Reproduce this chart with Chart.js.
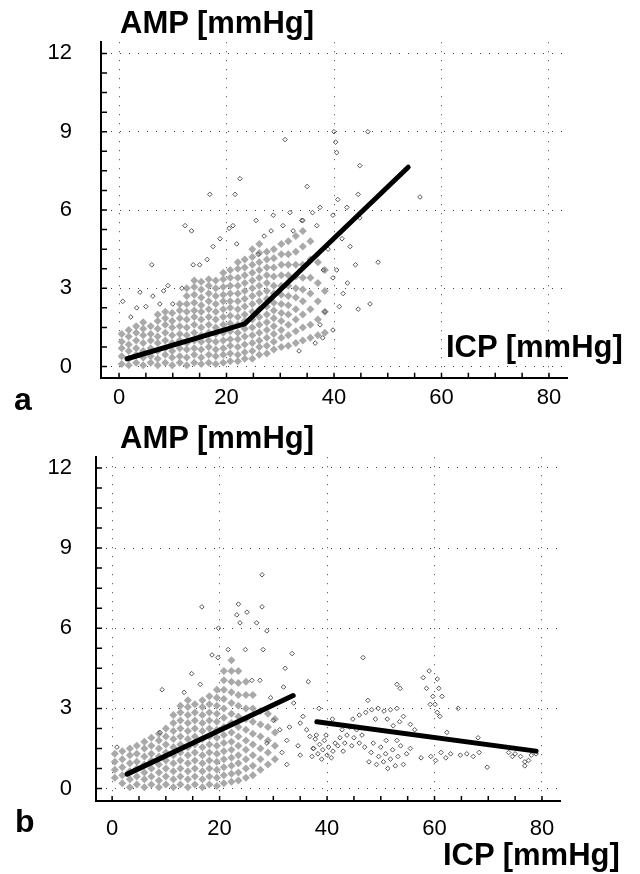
<!DOCTYPE html>
<html>
<head>
<meta charset="utf-8">
<script src="https://cdn.jsdelivr.net/npm/chart.js@4.4.1/dist/chart.umd.min.js"></script>
<style>
  body { margin: 0; background: #fff; }
  #wrap { position: relative; width: 640px; height: 874px; }
  .panel { position: absolute; left: 0; width: 640px; }
  .lbl { position: absolute; font-family: 'Liberation Sans', Arial, sans-serif; font-weight: bold; font-size: 31px; line-height: 1; color: #000; white-space: nowrap; }
  .tag { font-size: 32px; }
</style>
</head>
<body>
<div id="wrap">
  <div class="panel" style="top:0;height:420px"><canvas id="chartA"></canvas></div>
  <div class="panel" style="top:420px;height:454px"><canvas id="chartB"></canvas></div>
  <div class="lbl" style="left:120px;top:7px">AMP [mmHg]</div>
  <div class="lbl" style="left:446px;top:331px">ICP [mmHg]</div>
  <div class="lbl tag" style="left:14px;top:383px">a</div>
  <div class="lbl" style="left:120px;top:422px">AMP [mmHg]</div>
  <div class="lbl" style="left:443px;top:839px">ICP [mmHg]</div>
  <div class="lbl tag" style="left:15px;top:805px">b</div>
</div>
<script>
// tick values (ICP on x, AMP on y)
var xTicks = [0, 5, 10, 15, 20, 25, 30, 35, 40, 45, 50, 55, 60, 65, 70, 75, 80];
var yTicks = [0, 0.75, 1.5, 2.25, 3, 3.75, 4.5, 5.25, 6, 6.75, 7.5, 8.25, 9, 9.75, 10.5, 11.25, 12];

// panel a: dense cloud, one column of AMP values per ICP value
var cloudAx = [0.5, 1.8, 3.2, 4.5, 5.9, 7.2, 8.6, 9.9, 11.3, 12.6, 14.0, 15.3, 16.7, 18.0, 19.4, 20.7, 22.1, 23.4, 24.8, 26.1, 27.5, 28.8, 30.2, 31.5, 32.9, 34.2, 35.6, 37.0, 38.3];
var cloudAy = [
  [0.1,0.4,0.7,0.95,1.25],
  [0.05,0.3,0.6,0.85,1.15,1.4],
  [0.15,0.45,0.7,1.0,1.3,1.55],
  [0.05,0.35,0.6,0.9,1.2,1.45,1.7],
  [0.15,0.4,0.7,1.0,1.25,1.55],
  [0.05,0.3,0.6,0.9,1.15,1.45,1.75,2.0],
  [0.15,0.45,0.7,1.0,1.3,1.6,1.85,2.1],
  [0.05,0.35,0.6,0.9,1.2,1.5,1.75,2.05],
  [0.15,0.4,0.7,1.0,1.25,1.55,1.85,2.15,2.4],
  [0.05,0.35,0.65,0.9,1.2,1.5,1.8,2.1,2.4,2.7,3.0],
  [0.15,0.45,0.7,1.0,1.3,1.6,1.9,2.15,2.45,2.75,3.05,3.3],
  [0.1,0.35,0.65,0.95,1.2,1.5,1.8,2.1,2.35,2.65,2.95,3.25],
  [0.15,0.45,0.75,1.0,1.3,1.6,1.9,2.2,2.5,2.8,3.1,3.35],
  [0.1,0.4,0.65,0.95,1.25,1.5,1.8,2.1,2.4,2.7,3.0,3.3],
  [0.15,0.45,0.7,1.0,1.3,1.6,1.9,2.2,2.5,2.75,3.05,3.35,3.6],
  [0.2,0.5,0.8,1.05,1.35,1.65,1.95,2.25,2.5,2.8,3.1,3.4,3.7],
  [0.2,0.45,0.75,1.05,1.3,1.6,1.9,2.2,2.5,2.8,3.1,3.4,3.75,4.0],
  [0.3,0.55,0.85,1.15,1.45,1.75,2.0,2.3,2.6,2.9,3.2,3.5,3.8,4.1],
  [0.3,0.6,0.9,1.2,1.5,1.8,2.1,2.4,2.7,3.0,3.3,3.6,3.9,4.2,4.5],
  [0.45,0.75,1.0,1.3,1.6,1.9,2.2,2.5,2.8,3.1,3.4,3.7,4.0,4.35,4.7],
  [0.5,0.8,1.1,1.4,1.7,2.0,2.3,2.6,2.9,3.2,3.5,3.8,4.1,4.4],
  [0.65,0.95,1.25,1.55,1.85,2.15,2.45,2.8,3.1,3.45,3.8,4.15,4.5],
  [0.75,1.1,1.4,1.75,2.05,2.4,2.75,3.1,3.5,3.9,4.3,4.7],
  [0.8,1.2,1.6,2.0,2.35,2.7,3.1,3.5,3.9,4.3,4.8],
  [0.9,1.35,1.8,2.2,2.65,3.0,3.45,3.9,4.4,5.0],
  [1.0,1.5,2.0,2.5,2.95,3.4,3.9,4.6,5.2],
  [1.1,1.6,2.2,2.8,3.4,4.1,4.8],
  [1.2,1.8,2.5,3.2,4.0],
  [1.3,2.1,2.9,3.7]
];
// panel a: scattered points
var sparseAx = [30.9,22.5,16.9,21.6,35,28.7,31.8,34,36,40,40.3,40.5,46.3,44.8,56,44.5,40.7,37.4,42.4,39.8,44.8,43,48.2,44,41.7,46.7,44.5,41,38.3,39.8,37.4,39.8,40.5,38,12.3,13.5,6.1,21.2,21.9,18.8,3.9,3.3,6.3,9.1,11.7,7.6,10,16.4,15,0.7,25.9,30.5,32.4,34.2,27,28.3,25.5,20.5,17.5,13.8,8.3,5,2.2,36.5,37.9,33.5,41.5,38.9,42.5,36.8];
var sparseAy = [8.7,7.2,6.6,6.6,6.9,5.8,5.9,5.6,5.9,9.0,8.6,8.2,9.0,7.7,6.5,6.6,6.4,6.1,6.1,5.8,5.7,4.6,4.0,3.9,2.8,2.4,2.2,2.3,2.1,1.4,1.6,3.4,3.7,3.7,5.4,5.2,3.9,5.4,4.7,4.9,2.85,2.25,2.7,3.1,3.0,2.4,2.4,4.1,3.9,2.5,4.3,5.4,5.2,5.6,5.0,5.2,5.6,5.3,4.6,3.9,2.9,2.3,1.9,0.9,1.1,0.6,4.9,4.5,3.2,5.4];
// panel a: fitted line
var fitAx = [1.5, 23.4, 53.8];
var fitAy = [0.3, 1.64, 7.64];

// panel b: dense cloud
var cloudBx = [0.5, 1.9, 3.3, 4.6, 6.0, 7.3, 8.7, 10.0, 11.4, 12.7, 14.1, 15.4, 16.8, 18.1, 19.5, 20.8, 22.2, 23.5, 24.9, 26.2, 27.6, 29.0, 30.3];
var cloudBy = [
  [0.4,0.7,1.0,1.3],
  [0.2,0.5,0.8,1.1,1.4],
  [0.05,0.35,0.65,0.95,1.25,1.5],
  [0.15,0.45,0.75,1.0,1.3,1.6],
  [0.05,0.35,0.6,0.9,1.2,1.5,1.75],
  [0.15,0.45,0.75,1.05,1.3,1.6,1.9],
  [0.05,0.3,0.6,0.9,1.2,1.5,1.8,2.05],
  [0.15,0.45,0.75,1.05,1.35,1.65,1.95,2.25],
  [0.05,0.35,0.65,0.95,1.25,1.55,1.85,2.15,2.45,2.75],
  [0.15,0.45,0.75,1.05,1.35,1.65,1.95,2.25,2.55,2.85,3.1],
  [0.05,0.35,0.65,0.95,1.25,1.55,1.85,2.15,2.45,2.75,3.05,3.3],
  [0.15,0.45,0.75,1.05,1.35,1.65,1.95,2.25,2.55,2.85,3.15],
  [0.05,0.35,0.65,0.95,1.25,1.55,1.85,2.15,2.45,2.75,3.05,3.3],
  [0.15,0.45,0.75,1.05,1.35,1.65,1.95,2.25,2.55,2.85,3.15,3.45],
  [0.1,0.4,0.7,1.0,1.3,1.6,1.9,2.2,2.5,2.8,3.1,3.4,3.7],
  [0.2,0.5,0.8,1.1,1.4,1.7,2.0,2.3,2.65,3.0,3.35,3.7,4.05,4.4],
  [0.25,0.55,0.85,1.15,1.45,1.75,2.1,2.45,2.8,3.2,3.6,4.0,4.4,4.8],
  [0.3,0.6,0.95,1.25,1.6,1.95,2.3,2.7,3.1,3.5,3.95,4.4],
  [0.4,0.75,1.1,1.45,1.8,2.2,2.6,3.0,3.5,4.0],
  [0.5,0.85,1.25,1.65,2.05,2.5,3.0,3.5],
  [0.7,1.1,1.5,1.95,2.4,2.9],
  [0.9,1.35,1.8,2.3,2.8],
  [1.1,1.6,2.1,2.6]
];
// panel b: scattered points and right-hand clusters
var sparseBx = [27.9,16.7,23.5,25.1,27.9,23.2,23.8,26.9,28.8,19.8,33.5,28.1,24.8,32.2,36.5,31.9,27.5,26,14.8,9.3,13.4,16.4,18.6,19.7,21.6,0.9,8.9,30,31.2,32.5,35,36.2,36.8,28.8,31.6,35,37.4,32.5,35.5,33.8,29.5,34.6,33,
  37.2,37.5,37.8,38.3,38.6,39.0,39.2,39.5,40.0,40.3,40.8,41.1,41.5,38.0,39.8,
  42.0,42.4,42.8,43.3,43.7,44.2,44.6,45.0,45.5,46.0,46.5,47.0,43.0,
  44.8,46.0,47.2,48.3,49.5,50.6,51.8,53.0,54.2,49,51.2,53.5,47.6,52.3,55.5,56.3,
  47.8,48.2,48.6,49.2,49.6,50.0,50.5,50.9,51.3,51.8,52.2,52.7,53.2,53.7,54.2,54.8,55.5,53.0,51.0,
  57.9,60.5,58.5,59.7,61.4,60.1,60.5,61,59.2,60.8,59.0,
  46.7,53,53.6,38.5,41,
  57.5,59.3,61.2,63.0,64.8,60.2,62.1,67.2,68.3,69.8,68.1,62.3,64.4,66,
  73.8,75.0,76.0,76.8,76.8,78.0,78.9,74.5,77.5];
var sparseBy = [8.0,6.8,6.9,6.6,6.8,6.5,6.2,6.2,5.9,6.0,5.05,5.2,5.2,4.5,4.0,3.8,4.05,4.05,4.3,3.7,3.6,3.9,5.0,4.9,5.2,1.55,2.1,2.55,2.2,1.8,2.45,2.2,1.95,1.7,1.35,1.25,1.5,0.9,2.7,3.2,3.4,1.6,2.3,
  1.2,1.5,1.85,1.3,1.65,1.1,1.45,1.8,1.25,1.55,1.15,1.4,1.7,2.0,2.0,
  1.6,1.9,2.2,1.7,2.0,2.3,1.6,1.9,2.2,1.7,2.0,1.55,1.4,
  2.6,2.75,2.85,2.95,3.0,2.9,2.95,3.0,2.7,2.6,2.6,2.5,3.3,2.35,2.4,2.2,
  1.0,1.35,1.7,0.9,1.2,1.55,1.0,1.3,0.75,1.1,1.45,0.85,1.2,1.6,0.9,1.3,1.5,1.8,1.8,
  4.15,4.1,3.75,3.45,3.45,3.15,2.85,2.7,3.15,3.75,4.4,
  4.9,3.9,3.75,3.0,2.6,
  1.15,1.2,1.35,1.3,1.25,1.05,1.15,1.2,1.35,0.8,1.9,2.1,3.0,1.3,
  1.35,1.3,1.2,1.0,0.85,1.25,1.3,1.2,1.05];
// panel b: two fitted lines
var fitB1x = [2.8, 33.7];
var fitB1y = [0.54, 3.48];
var fitB2x = [38.1, 78.9];
var fitB2y = [2.5, 1.4];

function columns(xs, ys) {
  var pts = [];
  xs.forEach(function (x, i) {
    ys[i].forEach(function (y) { pts.push({x: x, y: y}); });
  });
  return pts;
}
function pairs(xs, ys) {
  return xs.map(function (x, i) { return {x: x, y: ys[i]}; });
}

// short tick marks pointing into the plot
var inTicks = {
  id: 'inTicks',
  afterDraw: function (chart) {
    var c = chart.ctx, a = chart.chartArea;
    var sx = chart.scales.x, sy = chart.scales.y;
    c.save();
    c.strokeStyle = '#000';
    c.lineWidth = 1.5;
    c.beginPath();
    sx.ticks.forEach(function (t) {
      var px = sx.getPixelForValue(t.value);
      c.moveTo(px, a.bottom);
      c.lineTo(px, a.bottom - 5);
    });
    sy.ticks.forEach(function (t) {
      var py = sy.getPixelForValue(t.value);
      c.moveTo(a.left, py);
      c.lineTo(a.left + 6, py);
    });
    c.stroke();
    c.restore();
  }
};

var tickFont = {family: "'Liberation Sans', Arial, sans-serif", size: 22};

function makeChart(id, cloud, sparse, fits, o) {
  var datasets = fits.map(function (f) {
    return {type: 'line', data: f, showLine: true, borderColor: '#000', borderWidth: 5,
            pointRadius: 0, borderCapStyle: 'round', fill: false};
  });
  datasets.push({data: sparse, pointStyle: 'rectRot', pointRadius: 2.3,
                 borderWidth: 1, borderColor: '#555', backgroundColor: 'rgba(0,0,0,0)'});
  datasets.push({data: cloud, pointStyle: 'rectRot', pointRadius: 4,
                 borderWidth: 0, backgroundColor: '#a9a9a9'});
  return new Chart(document.getElementById(id), {
    type: 'scatter',
    data: {datasets: datasets},
    options: {
      responsive: true,
      maintainAspectRatio: false,
      animation: false,
      layout: {padding: {left: 0, top: o.top, right: o.right, bottom: 0}},
      plugins: {legend: {display: false}, tooltip: {enabled: false}},
      scales: {
        x: {
          type: 'linear', min: o.xmin, max: 83.35,
          afterBuildTicks: function (s) { s.ticks = xTicks.map(function (v) { return {value: v}; }); },
          afterFit: function (s) { s.height = o.xh; },
          ticks: {autoSkip: false, maxRotation: 0, padding: o.xpad, color: '#000', font: tickFont,
                  callback: function (v) { return v % 20 === 0 ? v : ''; }},
          grid: {drawTicks: false, lineWidth: 1,
                 color: function (c) { return c.tick && c.tick.value % 20 === 0 ? '#444' : 'rgba(0,0,0,0)'; }},
          border: {display: true, color: '#000', width: 2, dash: [1, 8]}
        },
        y: {
          type: 'linear', min: o.ymin, max: o.ymax,
          afterBuildTicks: function (s) { s.ticks = yTicks.map(function (v) { return {value: v}; }); },
          afterFit: function (s) { s.width = o.yw; },
          ticks: {autoSkip: false, padding: o.ypad, color: '#000', font: tickFont,
                  callback: function (v) { return v % 3 === 0 ? v : ''; }},
          grid: {drawTicks: false, lineWidth: 1,
                 color: function (c) { return c.tick && c.tick.value % 3 === 0 ? '#444' : 'rgba(0,0,0,0)'; }},
          border: {display: true, color: '#000', width: 2, dash: [1, 8]}
        }
      }
    },
    plugins: [inTicks]
  });
}

makeChart('chartA', columns(cloudAx, cloudAy), pairs(sparseAx, sparseAy),
  [pairs(fitAx, fitAy)],
  {top: 25, right: 73, xmin: -3.35, ymin: -0.43, ymax: 12.43, xh: 35, yw: 101, xpad: 7, ypad: 29});

makeChart('chartB', columns(cloudBx, cloudBy), pairs(sparseBx, sparseBy),
  [pairs(fitB1x, fitB1y), pairs(fitB2x, fitB2y)],
  {top: 22, right: 80, xmin: -3.0, ymin: -0.466, ymax: 12.4, xh: 73, yw: 96, xpad: 15, ypad: 24});
</script>
</body>
</html>
